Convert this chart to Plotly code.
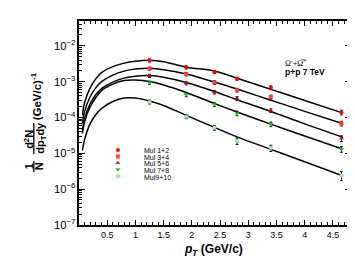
import plotly.graph_objects as go

# ---------------- data ----------------
pt = [1.25, 1.9, 2.4, 2.8, 3.4, 4.65]
series_names = ["Mul 1+2", "Mul 3+4", "Mul 5+6", "Mul 7+8", "Mul9+10"]
mul12 = [3.9e-3, 2.5e-3, 1.86e-3, 1.2e-3, 6.8e-4, 1.38e-4]
mul34 = [2.3e-3, 1.6e-3, 9.4e-4, 5.8e-4, 3.7e-4, 6.8e-5]
mul56 = [1.45e-3, 9.0e-4, 5.1e-4, 3.4e-4, 1.55e-4, 2.6e-5]
mul78 = [9.3e-4, 4.3e-4, 2.3e-4, 1.3e-4, 6.5e-5, 1.3e-5]
mul910 = [2.7e-4, 1.05e-4, 5.2e-5, 2.2e-5, 1.4e-5, 2.4e-6]
# relative uncertainties
rel12 = [0.10, 0.10, 0.10, 0.10, 0.12, 0.15]
rel34 = [0.10, 0.10, 0.12, 0.12, 0.12, 0.15]
rel56 = [0.10, 0.10, 0.12, 0.12, 0.12, 0.18]
rel78 = [0.10, 0.12, 0.12, 0.15, 0.15, 0.18]
rel910 = [0.12, 0.12, 0.15, 0.20, 0.20, 0.28]

# fit curves
fit_pt = [0.06, 0.1, 0.2, 0.3, 0.4, 0.6, 0.8, 1.0, 1.25, 1.5, 1.9, 2.4, 2.8, 3.4, 4.0, 4.68]
fit12 = [1.14e-4, 2.61e-4, 6.8e-4, 1.21e-3, 1.78e-3, 2.61e-3, 3.27e-3, 3.71e-3, 3.91e-3, 3.59e-3,
         2.53e-3, 1.98e-3, 1.24e-3, 6.07e-4, 2.97e-4, 1.32e-4]
fit34 = [6.8e-5, 1.47e-4, 3.83e-4, 6.8e-4, 1.0e-3, 1.52e-3, 1.96e-3, 2.23e-3, 2.34e-3, 2.15e-3,
         1.62e-3, 9.7e-4, 6.19e-4, 3.03e-4, 1.48e-4, 6.7e-5]
fit56 = [4.35e-5, 9.4e-5, 2.45e-4, 4.35e-4, 6.39e-4, 9.7e-4, 1.25e-3, 1.42e-3, 1.47e-3, 1.33e-3,
         9.4e-4, 5.27e-4, 3.12e-4, 1.47e-4, 6.6e-5, 2.78e-5]
fit78 = [3.59e-5, 7.7e-5, 2.02e-4, 3.59e-4, 5.62e-4, 8.5e-4, 1.07e-3, 1.10e-3, 1.0e-3, 8.0e-4,
         4.94e-4, 2.45e-4, 1.42e-4, 6.5e-5, 3.03e-5, 1.29e-5]
fit910 = [1.21e-5, 2.45e-5, 6.8e-5, 1.21e-4, 1.78e-4, 2.78e-4, 3.48e-4, 3.48e-4, 2.87e-4, 2.15e-4,
          1.14e-4, 5.27e-5, 2.87e-5, 1.29e-5, 5.8e-6, 2.33e-6]

# legend marker anchor (in data units) and entry values
legend_x = 0.69
legend_y = [1.24e-5, 8.15e-6, 5.38e-6, 3.53e-6, 2.30e-6]

# ---------------- styling ----------------
W, H = 355, 257
L, R, T, B = 71, 345, 13, 217
FONT = "Liberation Sans, Arial, Helvetica, sans-serif"
colors = ["#ff0000", "#ff3b3b", "#b01010", "#00e000", "#a8f5a8"]
line_colors = ["#ff0000", "#ff3b3b", "#b01010", "#00c000", "#66cc66"]
symbols = ["circle", "square", "triangle-up", "triangle-down", "circle"]


def px(xp):
    return (xp - L) / (R - L)


def py(yp):
    return (B - yp) / (B - T)


fig = go.Figure()

for fy in [fit12, fit34, fit56, fit78, fit910]:
    fig.add_trace(go.Scatter(x=fit_pt, y=fy, mode="lines", line=dict(color="black", width=1.5, shape="spline"),
                             showlegend=False, hoverinfo="skip"))

for vals, rel, c, lc, s in zip([mul12, mul34, mul56, mul78, mul910],
                               [rel12, rel34, rel56, rel78, rel910], colors, line_colors, symbols):
    fig.add_trace(go.Scatter(
        x=pt, y=vals, mode="markers",
        marker=dict(symbol=s, size=3.5, color=c, line=dict(color=lc, width=0.5)),
        error_y=dict(type="data", array=[v * r for v, r in zip(vals, rel)], color="#222222", thickness=1, width=1.5),
        showlegend=False))

# legend (manual)
fig.add_trace(go.Scatter(
    x=[legend_x] * len(legend_y), y=legend_y, mode="markers",
    marker=dict(symbol=symbols, size=3.5, color=colors, line=dict(color=line_colors, width=0.5)),
    showlegend=False, hoverinfo="skip"))
leg_py = [142.7, 149.2, 155.7, 162.3, 169.0]
for name, yy in zip(series_names, leg_py):
    fig.add_annotation(x=px(134), y=py(yy), xref="paper", yref="paper", text=name, showarrow=False,
                       xanchor="left", yanchor="middle", font=dict(family=FONT, size=7, color="black"))

# text annotations
fig.add_annotation(x=px(276), y=py(55), xref="paper", yref="paper",
                   text="Ω<sup>-</sup>+Ω\u0305<sup>+</sup>", showarrow=False, xanchor="left", yanchor="middle",
                   font=dict(family="Liberation Serif, Times New Roman, serif", size=8, color="black"))
fig.add_annotation(x=px(276), y=py(63.5), xref="paper", yref="paper",
                   text="<b>p+p 7 TeV</b>", showarrow=False, xanchor="left", yanchor="middle",
                   font=dict(family=FONT, size=8.5, color="black"))

# y-axis title built from rotated pieces
tf = dict(family=FONT, size=11, color="black")
for xx, yy, txt, f in [(20.5, 158.5, "<b>1</b>", tf), (30.5, 158.5, "<b>N</b>", tf),
                       (20.5, 131, "<b>d<sup>2</sup>N</b>", tf), (32.5, 130, "<b>dp<sub>T</sub>dy</b>", tf),
                       (27.5, 88.5, "<b>(GeV/c)<sup>-1</sup></b>", dict(family=FONT, size=11.5, color="black"))]:
    fig.add_annotation(x=px(xx), y=py(yy), xref="paper", yref="paper", text=txt, textangle=-90,
                       showarrow=False, font=f, xanchor="center", yanchor="middle")
for y0, y1 in [(153, 164), (115, 146)]:
    fig.add_shape(type="line", xref="paper", yref="paper", x0=px(25.5), x1=px(25.5), y0=py(y0), y1=py(y1),
                  line=dict(color="black", width=1.3))

# x-axis title
fig.add_annotation(x=px(206), y=py(242), xref="paper", yref="paper",
                   text="<b><i>p</i><sub><i>T</i></sub> (GeV/c)</b>", showarrow=False,
                   xanchor="center", yanchor="middle",
                   font=dict(family=FONT, size=12, color="black"))

fig.update_layout(
    width=W, height=H,
    margin=dict(l=L, r=W - R, t=T, b=H - B, pad=0),
    paper_bgcolor="white", plot_bgcolor="white",
    showlegend=False,
    xaxis=dict(range=[0.0001, 4.82], tickmode="linear", tick0=0, dtick=0.5, ticks="inside", ticklen=5,
               labelalias={"0": ""},
               tickcolor="black", tickwidth=1, showline=True, linecolor="black", linewidth=1.5,
               mirror="ticks", showgrid=False, zeroline=False,
               tickfont=dict(family=FONT, size=9, color="black"),
               minor=dict(dtick=0.1, tick0=0, ticks="inside", ticklen=3, tickcolor="black", showgrid=False)),
    yaxis=dict(type="log", range=[-7, -1.31], tickmode="linear", tick0=0, dtick=1, exponentformat="power",
               ticks="inside", ticklen=6, tickcolor="black", tickwidth=1, showline=True, linecolor="black",
               linewidth=1.5, mirror="ticks", showgrid=False, zeroline=False,
               tickfont=dict(family=FONT, size=9, color="black"),
               minor=dict(dtick="D1", ticks="inside", ticklen=3, tickcolor="black", showgrid=False)),
)

fig.write_html("out.html")
